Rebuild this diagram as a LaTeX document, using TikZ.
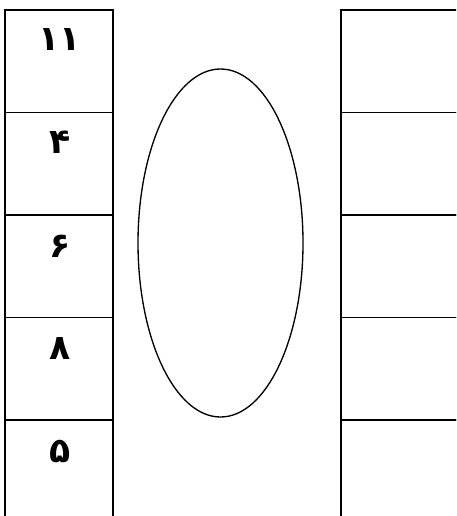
\documentclass[tikz,border=0pt]{standalone}
\usepackage{fontspec}
\newfontfamily\arabicfont[Script=Arabic]{DejaVu Sans}
\TeXXeTstate=1
\begin{document}
\begin{tikzpicture}[x=0.75pt,y=-0.75pt,
  cell/.style={draw=black,line width=1.4pt},
  num/.style={font=\arabicfont\bfseries\fontsize{26}{30}\selectfont,anchor=center,inner sep=0pt}]
\useasboundingbox (0,0) rectangle (456,516);
\begin{scope}
\clip (0,0) rectangle (456,516);
\foreach \i in {0,...,4}{
  \draw[cell] (5,{10+102.5*\i}) rectangle (113,{10+102.5*(\i+1)});
  \draw[cell] (341,{10+102.5*\i}) rectangle (470,{10+102.5*(\i+1)});
}
\end{scope}
\node[num] (n1) at (60,40) {\beginR ۱۱\endR};
\node[num] (n2) at (60,142) {\beginR ۴\endR};
\node[num] (n3) at (60,246) {\beginR ۶\endR};
\node[num] (n4) at (60,348) {\beginR ۸\endR};
\node[num] (n5) at (60,451) {\beginR ۵\endR};
\draw[line width=1pt] (220.5,243) ellipse [x radius=82.5, y radius=174];
\end{tikzpicture}
\end{document}
